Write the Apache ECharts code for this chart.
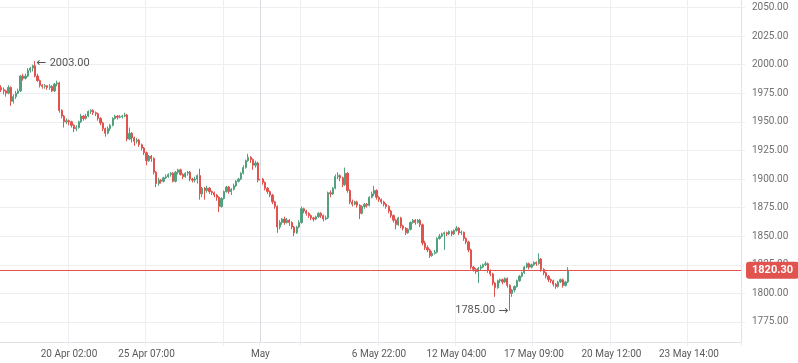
<!DOCTYPE html>
<html>
<head>
<meta charset="utf-8">
<script src="https://cdn.jsdelivr.net/npm/echarts@6/dist/echarts.min.js"></script>
<style>html,body{margin:0;padding:0;background:#fff}#c{width:798px;height:363px}</style>
</head>
<body>
<div id="c"></div>
<script>
// number of slots on the time axis (data + future space)
const slotCount = 306;
// x tick labels at slot index
const labelSlots = [28, 60, 107, 156, 188, 220, 252, 284];
const labelTexts = ['20 Apr 02:00', '25 Apr 07:00', 'May', '6 May 22:00', '12 May 04:00', '17 May 09:00', '20 May 12:00', '23 May 14:00'];
// vertical grid line slots
const gridSlots = [28, 60, 92, 124, 156, 188, 220, 252, 284];
const monthSlot = 107;
// y ticks
const yTicks = [1775, 1800, 1825, 1850, 1875, 1900, 1925, 1950, 1975, 2000, 2025, 2050];
const yMin = 1757.5, yMax = 2056.5;
const lastPrice = 1820.30;
const highIdx = 14, highVal = 2003.00;
const lowIdx = 210, lowVal = 1785.00;

// candles: [open, close, low, high]
const candles = [
[1980,1978,1976,1982],[1978,1977,1974,1980],[1977,1975,1972,1978],[1975,1980,1974,1982],[1980,1968,1964,1981],
[1968,1972,1966,1974],[1972,1975,1970,1977],[1975,1977,1974,1979],[1977,1990,1976,1991],[1990,1988,1986,1992],
[1988,1990,1987,1992],[1990,1995,1989,1997],[1995,1997,1993,1998],[1997,1999,1994,2000],[1999,1990,1989,2003],
[1990,1986,1985,1992],[1986,1982,1980,1987],[1982,1981,1979,1983],[1981,1981.5,1979,1983],[1981.5,1980,1978,1982],
[1980,1981,1978,1983],[1981,1977,1976,1982],[1977,1983,1976,1984],[1983,1984,1981,1986],[1984,1960,1958,1985],
[1960,1955,1953,1961],[1955,1950,1945,1956],[1950,1951,1948,1953],[1951,1950,1947,1952],[1950,1947,1945,1951],
[1947,1944,1941,1948],[1944,1945,1942,1947],[1945,1950,1944,1951],[1950,1955,1949,1957],[1955,1953,1951,1956],
[1953,1955,1952,1957],[1955,1959,1954,1960],[1959,1960,1957,1961],[1960,1958,1956,1961],[1958,1957,1955,1959],
[1957,1953,1951,1958],[1953,1949,1947,1954],[1949,1944,1942,1950],[1944,1940,1937,1945],[1940,1944,1939,1946],
[1944,1947,1942,1948],[1947,1953,1946,1954],[1953,1955,1952,1956],[1955,1954,1952,1956],[1954,1954.5,1953,1956],
[1954.5,1955,1953,1956],[1955,1956,1954,1958],[1956,1935,1933,1957],[1935,1940,1934,1945],[1940,1936,1932,1941],
[1936,1933,1929,1937],[1933,1934,1931,1936],[1934,1930,1928,1935],[1930,1927,1925,1931],[1927,1923,1921,1928],
[1923,1916,1912,1924],[1916,1920,1915,1921],[1920,1918,1915,1921],[1918,1906,1904,1919],[1906,1896,1893,1907],
[1896,1899,1894,1901],[1899,1898,1896,1900],[1898,1901,1897,1902],[1901,1902,1900,1904],[1902,1904,1901,1905],
[1904,1905,1902,1906],[1905,1898,1897,1906],[1898,1906,1897,1907],[1906,1908,1904,1909],[1908,1904,1903,1909],
[1904,1902,1900,1905],[1902,1905,1901,1906],[1905,1906,1903,1907],[1906,1900,1898,1907],[1900,1899,1897,1901],
[1899,1900,1897,1902],[1900,1903,1896,1904],[1903,1887,1882,1909],[1887,1892,1884,1893],[1892,1890,1882,1893],
[1890,1892,1888,1894],[1892,1889,1887,1893],[1889,1888,1886,1890],[1888,1886,1884,1889],[1886,1884,1881,1887],
[1884,1876,1871,1885],[1876,1883,1875,1884],[1883,1889,1882,1890],[1889,1893,1888,1894],[1893,1889,1887,1894],
[1889,1891,1886,1892],[1891,1894,1890,1896],[1894,1898,1893,1899],[1898,1900,1897,1901],[1900,1905,1899,1906],
[1905,1910,1904,1912],[1910,1916,1909,1917],[1916,1919,1915,1922],[1919,1917,1914,1920],[1917,1912,1908,1918],
[1912,1914,1910,1916],[1914,1899,1897,1915],[1899,1900,1897,1902],[1900,1897,1895,1901],[1897,1892,1890,1898],
[1892,1889,1887,1893],[1889,1886,1884,1890],[1886,1880,1878,1887],[1880,1876,1874,1881],[1876,1858,1853,1877],
[1858,1862,1856,1864],[1862,1865,1860,1866],[1865,1862,1860,1867],[1862,1864,1861,1866],[1864,1862,1859,1865],
[1862,1858,1856,1863],[1858,1853,1850,1859],[1853,1858,1852,1859],[1858,1862,1857,1864],[1862,1874,1861,1876],
[1874,1872,1870,1875],[1872,1870,1868,1873],[1870,1868,1866,1871],[1868,1866,1864,1869],[1866,1865,1863,1867],
[1865,1867,1864,1868],[1867,1870,1866,1871],[1870,1868,1866,1871],[1868,1865,1863,1869],[1865,1866,1864,1868],
[1866,1888,1865,1889],[1888,1887,1884,1890],[1887,1892,1886,1893],[1892,1902,1891,1904],[1902,1903,1900,1906],
[1903,1901,1898,1904],[1901,1895,1893,1902],[1895,1905,1894,1910],[1905,1890,1888,1906],[1890,1880,1878,1891],
[1880,1878,1876,1882],[1878,1880,1877,1881],[1880,1877,1875,1881],[1877,1870,1865,1878],[1870,1876,1869,1877],
[1876,1878,1874,1879],[1878,1877,1875,1879],[1877,1884,1876,1885],[1884,1887,1883,1889],[1887,1890,1885,1894],
[1890,1884,1882,1891],[1884,1882,1880,1885],[1882,1880,1878,1883],[1880,1878,1876,1881],[1878,1876,1874,1879],
[1876,1872,1870,1877],[1872,1868,1866,1873],[1868,1864,1862,1869],[1864,1860,1856,1865],[1860,1866,1859,1867],
[1866,1859,1857,1867],[1859,1857,1855,1860],[1857,1853,1851,1858],[1853,1856,1852,1857],[1856,1862,1855,1863],
[1862,1864,1861,1865],[1864,1862,1860,1865],[1862,1864,1861,1865],[1864,1860,1858,1865],[1860,1844,1842,1861],
[1844,1840,1838,1846],[1840,1838,1836,1842],[1838,1833,1831,1839],[1833,1835,1832,1837],[1835,1836,1834,1838],
[1836,1848,1835,1849],[1848,1850,1847,1852],[1850,1852,1849,1853],[1852,1853,1838,1854],[1853,1852,1850,1854],
[1852,1854,1851,1855],[1854,1852,1850,1855],[1852,1855,1851,1856],[1855,1857,1854,1859],[1857,1853,1851,1858],
[1853,1853.5,1851,1855],[1853.5,1848,1846,1854],[1848,1845,1843,1849],[1845,1838,1836,1846],[1838,1823,1821,1839],
[1823,1821,1819,1824],[1821,1819,1817,1822],[1819,1822,1809,1823],[1822,1823,1820,1825],[1823,1825,1822,1826],
[1825,1826,1824,1828],[1826,1820,1818,1827],[1820,1817,1815,1821],[1817,1809,1807,1818],[1809,1805,1797,1810],
[1805,1811,1804,1812],[1811,1812,1809,1813],[1812,1810,1808,1813],[1810,1813,1809,1814],[1813,1807,1805,1814],
[1807,1800,1785,1808],[1800,1803,1797,1804],[1803,1806,1801,1807],[1806,1811,1805,1812],[1811,1815,1810,1816],
[1815,1818,1814,1819],[1818,1823,1817,1824],[1823,1826,1822,1827],[1826,1823,1821,1827],[1823,1825,1822,1826],
[1825,1827,1824,1828],[1827,1826,1824,1828],[1826,1830,1825,1835],[1830,1821,1819,1831],[1821,1818,1816,1822],
[1818,1815,1813,1819],[1815,1812,1810,1816],[1812,1811,1809,1813],[1811,1808,1806,1812],[1808,1806,1804,1809],
[1806,1810,1805,1811],[1810,1812,1809,1813],[1812,1807,1805,1813],[1807,1810,1806,1811],[1810,1820.3,1809,1823]
];

const categories = [];
for (let i = 0; i < slotCount; i++) categories.push('s' + i);

const upColor = '#53a07f', downColor = '#e0534f';
const gridColor = '#eceef1';
const labelMap = {};
labelSlots.forEach((s, k) => labelMap[s] = labelTexts[k]);

const arrowRich = {a: {fontFamily: 'DejaVu Sans', fontSize: 12, color: '#555'}, t: {fontSize: 11, color: '#555'}};

const chart = echarts.init(document.getElementById('c'), null, {renderer: 'canvas'});
chart.setOption({
  animation: false,
  backgroundColor: '#fff',
  textStyle: {fontFamily: 'Roboto, sans-serif'},
  grid: {left: 0, right: 57, top: 0, bottom: 21, containLabel: false},
  xAxis: {
    type: 'category',
    data: categories,
    boundaryGap: true,
    axisLine: {show: true, lineStyle: {color: '#dfe2e6'}},
    axisTick: {show: true, length: 4, lineStyle: {color: gridColor},
      interval: (i) => gridSlots.indexOf(i) >= 0 || i === monthSlot},
    splitLine: {show: true, lineStyle: {color: gridColor},
      interval: (i) => gridSlots.indexOf(i) >= 0},
    axisLabel: {
      interval: (i) => labelMap[i] !== undefined,
      formatter: (v, i) => labelMap[i] || '',
      fontSize: 10, margin: 7,
      color: (v, i) => (labelMap[i] === 'May' ? '#333' : '#5a5a5a')
    }
  },
  yAxis: {
    type: 'value',
    position: 'right',
    min: yMin, max: yMax,
    scale: true,
    axisLine: {show: true, lineStyle: {color: '#dfe2e6'}},
    axisTick: {show: true, length: 4, lineStyle: {color: gridColor}, customValues: yTicks},
    splitLine: {show: true, lineStyle: {color: gridColor}, customValues: yTicks},
    axisLabel: {customValues: yTicks, formatter: (v) => v.toFixed(2), fontSize: 10, margin: 11, color: '#707070'}
  },
  series: [{
    type: 'candlestick',
    data: candles,
    barWidth: '70%',
    itemStyle: {color: upColor, color0: downColor, borderColor: upColor, borderColor0: downColor, borderWidth: 1},
    markLine: {
      silent: true, symbol: 'none', animation: false,
      data: [
        {xAxis: 's' + monthSlot, lineStyle: {color: '#d6d9dd', width: 1, type: 'solid'}, label: {show: false}},
        {yAxis: lastPrice, lineStyle: {color: downColor, width: 1, type: 'solid'},
          label: {show: true, position: 'end', distance: 5, formatter: lastPrice.toFixed(2),
            color: '#fff', fontWeight: 'bold', fontSize: 11, backgroundColor: downColor,
            padding: [3, 6, 3, 6], borderRadius: 3}}
      ]
    },
    markPoint: {
      silent: true, symbol: 'circle', symbolSize: 1, itemStyle: {color: 'rgba(0,0,0,0)'},
      data: [
        {coord: ['s' + highIdx, highVal], label: {show: true, position: 'right', distance: 1, offset: [0, 2],
          formatter: '{a|\u2190} {t|' + highVal.toFixed(2) + '}', rich: arrowRich}},
        {coord: ['s' + lowIdx, lowVal], label: {show: true, position: 'left', distance: 1,
          formatter: '{t|' + lowVal.toFixed(2) + '} {a|\u2192}', rich: arrowRich}}
      ]
    }
  }]
});
</script>
</body>
</html>
